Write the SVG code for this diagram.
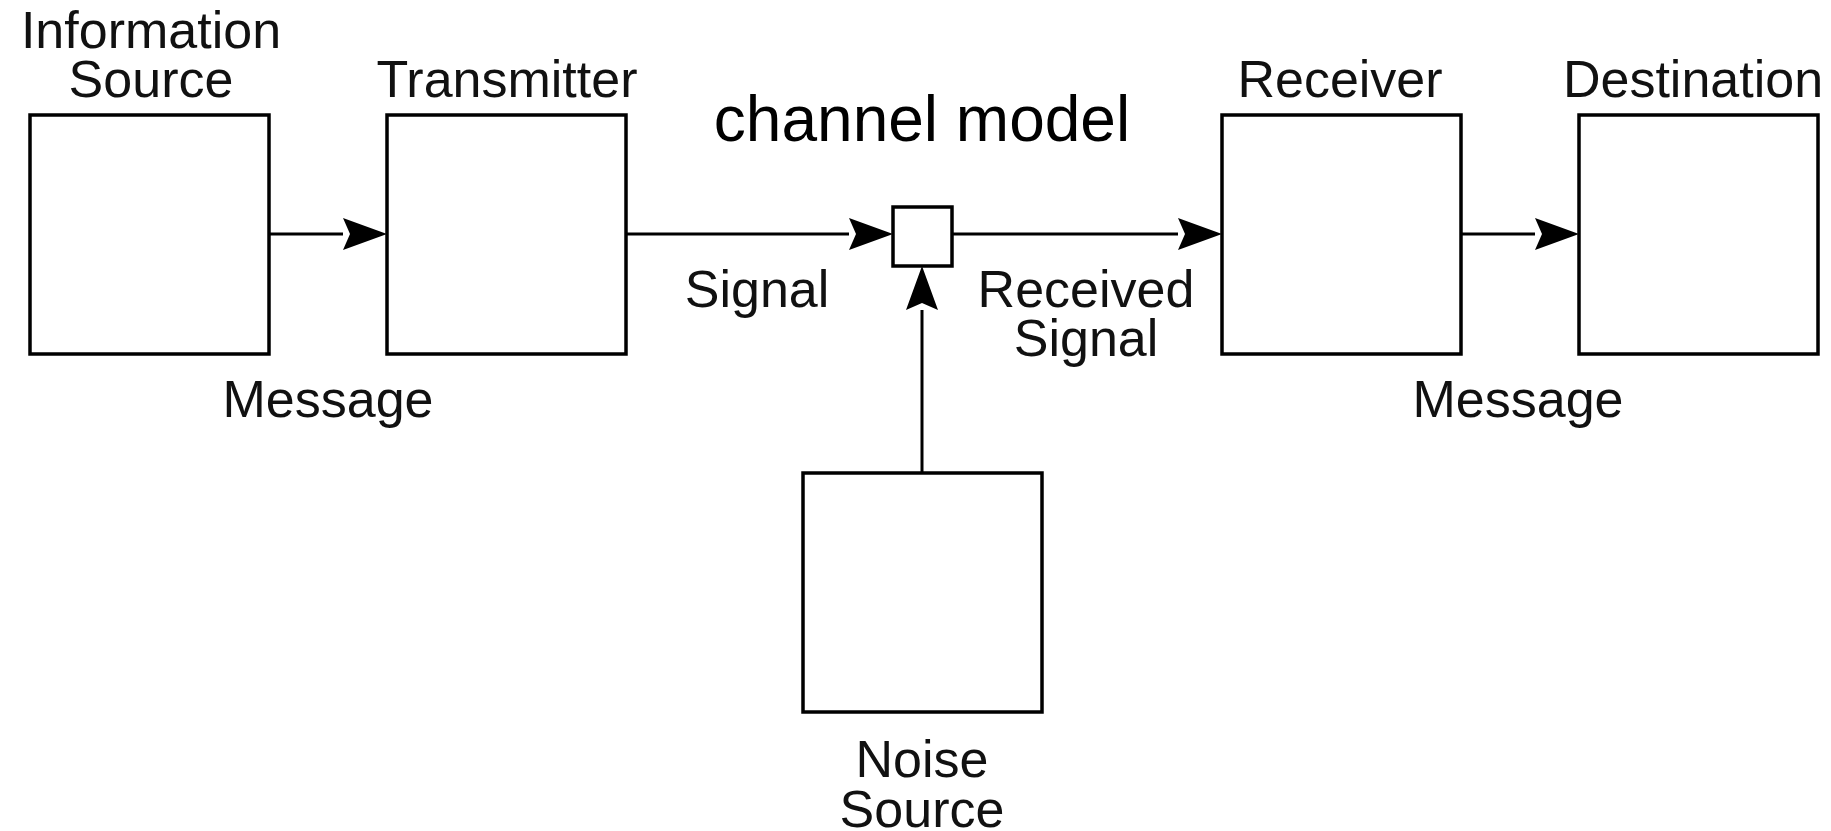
<svg xmlns="http://www.w3.org/2000/svg" width="1831" height="831" viewBox="0 0 1831 831">
  <style>
    .box { fill: #ffffff; stroke: #000000; stroke-width: 3.5; }
    .wire { fill: none; stroke: #000000; stroke-width: 3; }
    .label { font-family: "Liberation Sans", Arial, sans-serif; font-size: 52px; fill: #111111; text-anchor: middle; }
    .title { font-family: "Liberation Sans", Arial, sans-serif; font-size: 64px; fill: #000000; text-anchor: middle; }
  </style>
  <defs>
    <!-- notched arrowhead; the line stops at the notch, tip is 37px further on -->
    <marker id="arrow" markerUnits="userSpaceOnUse" viewBox="-1 -17 47 34" markerWidth="47" markerHeight="34" refX="0" refY="0" orient="auto">
      <path d="M44,0 L0,-16 L7,0 L0,16 Z" fill="#000000"/>
    </marker>
  </defs>

  <rect width="1831" height="831" fill="#ffffff"/>

  <text class="title" x="922" y="141">channel model</text>

  <g id="connectors">
    <line class="wire" x1="269" y1="234" x2="343" y2="234" marker-end="url(#arrow)"/>
    <line class="wire" x1="626" y1="234" x2="849" y2="234" marker-end="url(#arrow)"/>
    <line class="wire" x1="952" y1="234" x2="1178" y2="234" marker-end="url(#arrow)"/>
    <line class="wire" x1="1461" y1="234" x2="1535" y2="234" marker-end="url(#arrow)"/>
    <line class="wire" x1="922" y1="473" x2="922" y2="310" marker-end="url(#arrow)"/>
    <text class="label" x="328" y="417">Message</text>
    <text class="label" x="757" y="307">Signal</text>
    <text class="label" x="1086" y="307">Received</text>
    <text class="label" x="1086" y="356">Signal</text>
    <text class="label" x="1518" y="417">Message</text>
  </g>

  <g id="information-source">
    <rect class="box" x="30" y="115" width="239" height="239"/>
    <text class="label" x="151" y="48">Information</text>
    <text class="label" x="151" y="97">Source</text>
  </g>

  <g id="transmitter">
    <rect class="box" x="387" y="115" width="239" height="239"/>
    <text class="label" x="507" y="97">Transmitter</text>
  </g>

  <g id="channel">
    <rect class="box" x="893" y="207" width="59" height="59"/>
  </g>

  <g id="receiver">
    <rect class="box" x="1222" y="115" width="239" height="239"/>
    <text class="label" x="1340" y="97">Receiver</text>
  </g>

  <g id="destination">
    <rect class="box" x="1579" y="115" width="239" height="239"/>
    <text class="label" x="1693" y="97">Destination</text>
  </g>

  <g id="noise-source">
    <rect class="box" x="803" y="473" width="239" height="239"/>
    <text class="label" x="922" y="777">Noise</text>
    <text class="label" x="922" y="827">Source</text>
  </g>
</svg>
